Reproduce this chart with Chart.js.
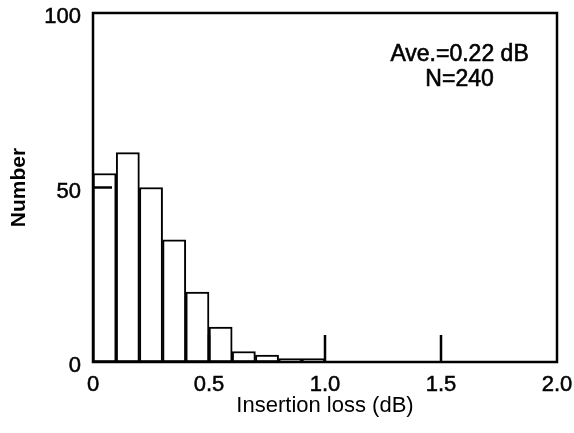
<!DOCTYPE html>
<html>
<head>
<meta charset="utf-8">
<script src="https://cdn.jsdelivr.net/npm/chart.js@4.4.1/dist/chart.umd.min.js"></script>
<style>
  html, body { margin: 0; padding: 0; background: #fff; }
  #wrap { width: 574px; height: 433px; position: relative; }
</style>
</head>
<body>
<div id="wrap"><canvas id="hist"></canvas></div>
<script>
// histogram bins (centre of each 0.1 dB bin) and counts
const binCenters = [0.05, 0.15, 0.25, 0.35, 0.45, 0.55, 0.65, 0.75, 0.85, 0.95];
const counts     = [54, 60, 50, 35, 20, 10, 3, 2, 1, 1];

const xTickLabels = { 0: "0", 0.5: "0.5", 1: "1.0", 1.5: "1.5", 2: "2.0" };
const yTickValues = [0, 50, 100];
const xInnerTicks = [0.5, 1.0, 1.5];
const yInnerTicks = [50];
const noteLines = ["Ave.=0.22 dB", "N=240"];

const FONT = "'Liberation Sans', Arial, sans-serif";

// box round the plot + inward tick marks + the note
const framePlugin = {
  id: "frame",
  afterDatasetsDraw(chart) {
    const { ctx, chartArea: a, scales } = chart;
    const x = scales.x, y = scales.y;
    ctx.save();
    ctx.strokeStyle = "#000";
    ctx.lineWidth = 2.5;
    ctx.strokeRect(a.left, a.top, a.right - a.left, a.bottom - a.top);

    ctx.beginPath();
    xInnerTicks.forEach(v => {
      const px = x.getPixelForValue(v);
      ctx.moveTo(px, a.bottom);
      ctx.lineTo(px, a.bottom - 27);
    });
    yInnerTicks.forEach(v => {
      const py = y.getPixelForValue(v);
      ctx.moveTo(a.left, py);
      ctx.lineTo(a.left + 19, py);
    });
    ctx.stroke();

    // text note, upper right
    ctx.fillStyle = "#000";
    ctx.strokeStyle = "#000";
    ctx.lineWidth = 0.6;
    ctx.font = "23px " + FONT;
    ctx.textAlign = "center";
    ctx.textBaseline = "middle";
    const cx = x.getPixelForValue(1.58);
    [[noteLines[0], 88], [noteLines[1], 81]].forEach(([t, v]) => {
      const py = y.getPixelForValue(v);
      ctx.fillText(t, cx, py);
      ctx.strokeText(t, cx, py);
    });
    ctx.restore();
  }
};

new Chart(document.getElementById("hist"), {
  type: "bar",
  data: {
    datasets: [{
      data: binCenters.map((c, i) => ({ x: c, y: counts[i] })),
      backgroundColor: "#fff",
      borderColor: "#000",
      borderWidth: 2,
      borderSkipped: false,
      barPercentage: 1,
      categoryPercentage: 1
    }]
  },
  options: {
    responsive: true,
    maintainAspectRatio: false,
    animation: false,
    devicePixelRatio: 1,
    layout: { padding: { top: 13, right: 17, left: 0, bottom: 0 } },
    plugins: { legend: { display: false }, tooltip: { enabled: false } },
    scales: {
      x: {
        type: "linear",
        min: 0, max: 2,
        offset: false,
        grid: { display: false, drawTicks: false },
        border: { display: false },
        afterFit: s => { s.height = 71; s.paddingLeft = 0; s.paddingRight = 0; },
        ticks: {
          stepSize: 0.5,
          padding: 10,
          color: "#000",
          textStrokeColor: "#000",
          textStrokeWidth: 0.5,
          font: { family: FONT, size: 22 },
          callback: v => xTickLabels[v] ?? ""
        },
        title: {
          display: true,
          text: "Insertion loss (dB)",
          color: "#000",
          font: { family: FONT, size: 22 },
          padding: { top: 0, bottom: 14 }
        }
      },
      y: {
        min: 0, max: 100,
        grid: { display: false, drawTicks: false },
        border: { display: false },
        afterFit: s => { s.width = 93; s.paddingTop = 0; s.paddingBottom = 0; },
        afterBuildTicks: s => { s.ticks = yTickValues.map(v => ({ value: v })); },
        ticks: {
          padding: 12,
          labelOffset: 4,
          color: "#000",
          textStrokeColor: "#000",
          textStrokeWidth: 0.5,
          font: { family: FONT, size: 22 }
        },
        title: {
          display: true,
          text: "Number",
          color: "#000",
          font: { family: FONT, size: 21, weight: "bold" },
          padding: { top: 7, bottom: 0 }
        }
      }
    }
  },
  plugins: [framePlugin]
});
</script>
</body>
</html>
